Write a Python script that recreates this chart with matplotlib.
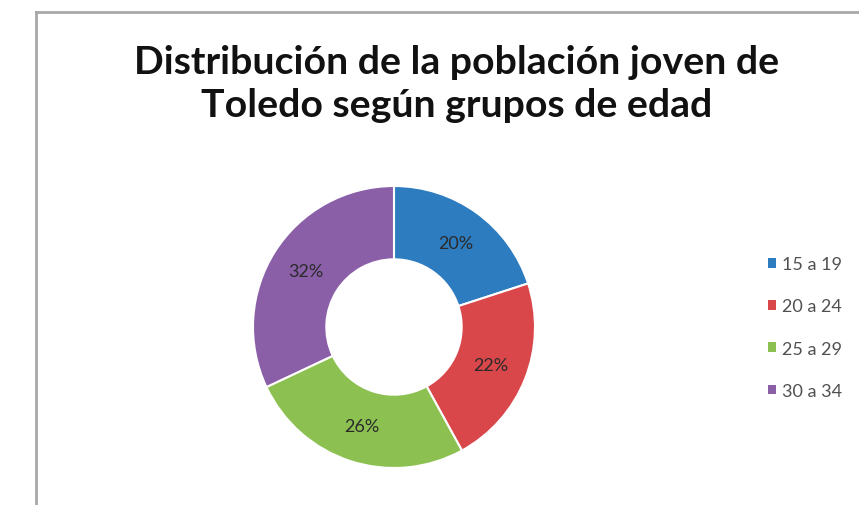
import matplotlib
matplotlib.use("Agg")
import matplotlib.pyplot as plt
from matplotlib.patches import Patch
from matplotlib.lines import Line2D

# datos
grupos = ["15 a 19", "20 a 24", "25 a 29", "30 a 34"]
porcentajes = [20, 22, 26, 32]
colores = ["#2e7cc0", "#d9474b", "#8cc152", "#8a5fa8"]
titulo = "Distribución de la población joven de\nToledo según grupos de edad"

plt.rcParams["font.family"] = ["Lato", "DejaVu Sans"]

fig = plt.figure(figsize=(8.59, 5.06), dpi=100)

# marco gris del área del gráfico
fig.add_artist(Line2D([36 / 859, 1.0], [1 - 13 / 506, 1 - 13 / 506],
                      transform=fig.transFigure, color="#a8a8a8", lw=2))
fig.add_artist(Line2D([36 / 859, 36 / 859], [0.0, 1 - 13 / 506],
                      transform=fig.transFigure, color="#a8a8a8", lw=2))

# donut
cx, cy, r = 394 / 859, 1 - 328 / 506, 141
w, h = 2 * r / 859, 2 * r / 506
ax = fig.add_axes([cx - w / 2, cy - h / 2, w, h])
wedges, textos, autotextos = ax.pie(
    porcentajes, colors=colores, startangle=90, counterclock=False,
    autopct="%d%%", pctdistance=0.74,
    wedgeprops=dict(width=0.52, edgecolor="white", linewidth=1.5),
    textprops=dict(fontsize=13, color="#2a2a2a"))
ax.set_xlim(-1, 1)
ax.set_ylim(-1, 1)
ax.set_aspect("equal")
ax.axis("off")

fig.text(457 / 859, 1 - 84 / 506, titulo, ha="center", va="center",
         fontsize=28.3, fontweight="bold", color="#111111", linespacing=1.3)

handles = [Patch(facecolor=c, edgecolor="none") for c in colores]
fig.legend(handles, grupos, loc="upper left",
           bbox_to_anchor=(752 / 859, 1 - 241 / 506), frameon=False,
           fontsize=13, labelcolor="#505050", handlelength=0.45,
           handleheight=0.45, handletextpad=0.3, labelspacing=1.45)

fig.savefig("out.png", dpi=100)
